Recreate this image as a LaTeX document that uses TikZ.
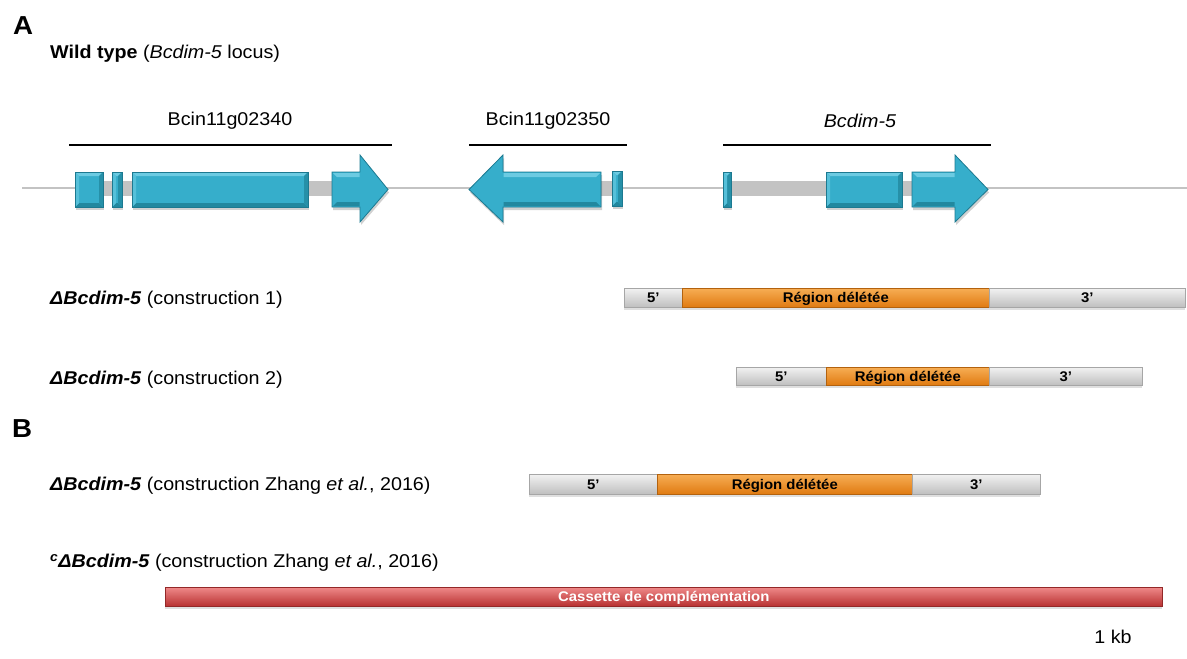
\documentclass[tikz,border=0pt]{standalone}
\usepackage{fontspec}
\setmainfont{Liberation Sans}[FakeStretch=1.065]
\usetikzlibrary{shadows}
\definecolor{exonmain}{HTML}{36AECB}
\definecolor{exonlight}{HTML}{6CCBE2}
\definecolor{exondark}{HTML}{22889F}
\definecolor{exonedge}{HTML}{1C7990}
\definecolor{intron}{HTML}{C3C3C3}
\definecolor{orangetop}{HTML}{F7AE55}
\definecolor{orangebot}{HTML}{E07B12}
\definecolor{redtop}{HTML}{F08A8A}
\definecolor{redbot}{HTML}{B83232}
\newcommand{\bevbox}[4]{%
  \fill[black, opacity=0.18] ({#1+1},{#2+3}) rectangle ({#3+1},{#4+3});
  \fill[exonmain] (#1,#2) rectangle (#3,#4);
  \fill[exonlight] (#1,#2) -- (#3,#2) -- ({#3-4},{#2+4}) -- ({#1+4},{#2+4}) -- cycle;
  \fill[exondark] (#1,#4) -- (#3,#4) -- ({#3-4},{#4-4}) -- ({#1+4},{#4-4}) -- cycle;
  \fill[exondark!80!exonmain] (#3,#2) -- (#3,#4) -- ({#3-4},{#4-4}) -- ({#3-4},{#2+4}) -- cycle;
  \fill[exonlight!60!exonmain] (#1,#2) -- (#1,#4) -- ({#1+4},{#4-4}) -- ({#1+4},{#2+4}) -- cycle;
  \draw[exonedge, line width=0.8] (#1,#2) rectangle (#3,#4);
}
\begin{document}
\begin{tikzpicture}[x=1pt,y=-1pt,
  lab/.style={anchor=west, inner sep=0, font=\fontsize{18.5}{22}\selectfont},
  genelab/.style={inner sep=0, font=\fontsize{18.5}{22}\selectfont},
  panel/.style={inner sep=0, font=\fontsize{26}{30}\selectfont\bfseries},
  segbase/.style={line width=0.6, inner sep=0, anchor=west, minimum height=19,
    text height=10pt, text depth=0pt, font=\fontsize{14}{16}\selectfont\bfseries,
    drop shadow={opacity=0.25, shadow xshift=0pt, shadow yshift=-3pt}},
  seggray/.style={segbase, draw=black!35, top color=white!95!black, bottom color=black!25},
  segorange/.style={segbase, draw=orangebot!80!black, top color=orangetop, bottom color=orangebot},
  segred/.style={segbase, draw=redbot!80!black, top color=redtop, bottom color=redbot, text=white},
  overline/.style={line width=2, black},
  backbone/.style={line width=2.5, intron},
  intronband/.style={fill=intron},
  arrowgene/.style={fill=exonmain, draw=exonedge, line width=0.8, line join=miter},
  arrowshadow/.style={fill=black, opacity=0.18}
]
\useasboundingbox (0,0) rectangle (1187,659);

% panel letters
\node[panel] (pA) at (23,26) {A};
\node[panel] (pB) at (22,429) {B};

% titles
\node[lab] (wt) at (50,54) {\textbf{Wild type} (\textit{Bcdim-5} locus)};
\node[lab] (l1) at (50,300) {\textbf{\textit{ΔBcdim-5}} (construction 1)};
\node[lab] (l2) at (50,380) {\textbf{\textit{ΔBcdim-5}} (construction 2)};
\node[lab] (l3) at (50,486) {\textbf{\textit{ΔBcdim-5}} (construction Zhang \textit{et al.}, 2016)};
\node[lab] (l4) at (50,563) {\textsuperscript{\textbf{\textit{c}}}\textbf{\textit{ΔBcdim-5}} (construction Zhang \textit{et al.}, 2016)};

% gene labels and overlines
\node[genelab] (g1) at (230,121) {Bcin11g02340};
\node[genelab] (g2) at (548,121) {Bcin11g02350};
\node[genelab] (g3) at (860,121) {\textit{Bcdim-5}};
\coordinate (o1a) at (69,145); \coordinate (o1b) at (392,145);
\coordinate (o2a) at (469,145); \coordinate (o2b) at (627,145);
\coordinate (o3a) at (723,145); \coordinate (o3b) at (991,145);
\draw[overline] (o1a) -- (o1b);
\draw[overline] (o2a) -- (o2b);
\draw[overline] (o3a) -- (o3b);

% backbone
\coordinate (bbL) at (22,188); \coordinate (bbR) at (1187,188);
\draw[backbone] (bbL) -- (bbR);

% introns
\fill[intronband] (80,181) rectangle (340,196);
\fill[intronband] (590,181) rectangle (616,196);
\fill[intronband] (727,181) rectangle (920,196);

% gene 1
\bevbox{75}{172}{103}{207}
\bevbox{112}{172}{122}{207}
\bevbox{132}{172}{308}{207}
\fill[arrowshadow] (333,175) -- (361,175) -- (361,158) -- (389,192.5) -- (361,225) -- (361,210) -- (333,210) -- cycle;
\draw[arrowgene] (332,172) -- (360,172) -- (360,155) -- (388,189.5) -- (360,222) -- (360,207) -- (332,207) -- cycle;
\fill[exonlight] (333,173) -- (359.5,173) -- (359.5,177) -- (337,177) -- cycle;
\fill[exondark] (333,206) -- (359.5,206) -- (359.5,202) -- (337,202) -- cycle;

% gene 2
\fill[arrowshadow] (602,175) -- (504,175) -- (504,158) -- (470,192.5) -- (504,225) -- (504,210) -- (602,210) -- cycle;
\draw[arrowgene] (601,172) -- (503,172) -- (503,155) -- (469,189.5) -- (503,222) -- (503,207) -- (601,207) -- cycle;
\fill[exonlight] (600,173) -- (503.5,173) -- (503.5,177) -- (596,177) -- cycle;
\fill[exondark] (600,206) -- (503.5,206) -- (503.5,202) -- (596,202) -- cycle;
\bevbox{612}{171}{622}{206}

% gene 3
\bevbox{723}{172}{731}{207}
\bevbox{826}{172}{902}{207}
\fill[arrowshadow] (913,175) -- (956,175) -- (956,158) -- (989,192.5) -- (956,225) -- (956,210) -- (913,210) -- cycle;
\draw[arrowgene] (912,172) -- (955,172) -- (955,155) -- (988,189.5) -- (955,222) -- (955,207) -- (912,207) -- cycle;
\fill[exonlight] (913,173) -- (954.5,173) -- (954.5,177) -- (917,177) -- cycle;
\fill[exondark] (913,206) -- (954.5,206) -- (954.5,202) -- (917,202) -- cycle;

% construction 1
\node[seggray, minimum width=58] (c1a) at (624,297.5) {5’};
\node[segorange, minimum width=307] (c1b) at (682,297.5) {Région délétée};
\node[seggray, minimum width=196] (c1c) at (989,297.5) {3’};

% construction 2
\node[seggray, minimum width=90, minimum height=18] (c2a) at (736,376) {5’};
\node[segorange, minimum width=163, minimum height=18] (c2b) at (826,376) {Région délétée};
\node[seggray, minimum width=153, minimum height=18] (c2c) at (989,376) {3’};

% Zhang
\node[seggray, minimum width=128, minimum height=20] (z1) at (529,484) {5’};
\node[segorange, minimum width=255, minimum height=20] (z2) at (657,484) {Région délétée};
\node[seggray, minimum width=128, minimum height=20] (z3) at (912,484) {3’};

% complementation cassette
\node[segred, minimum width=997] (cas) at (165,596.5) {Cassette de complémentation};

% scale label
\node[genelab] (kb) at (1113,637) {1 kb};
\end{tikzpicture}
\end{document}
